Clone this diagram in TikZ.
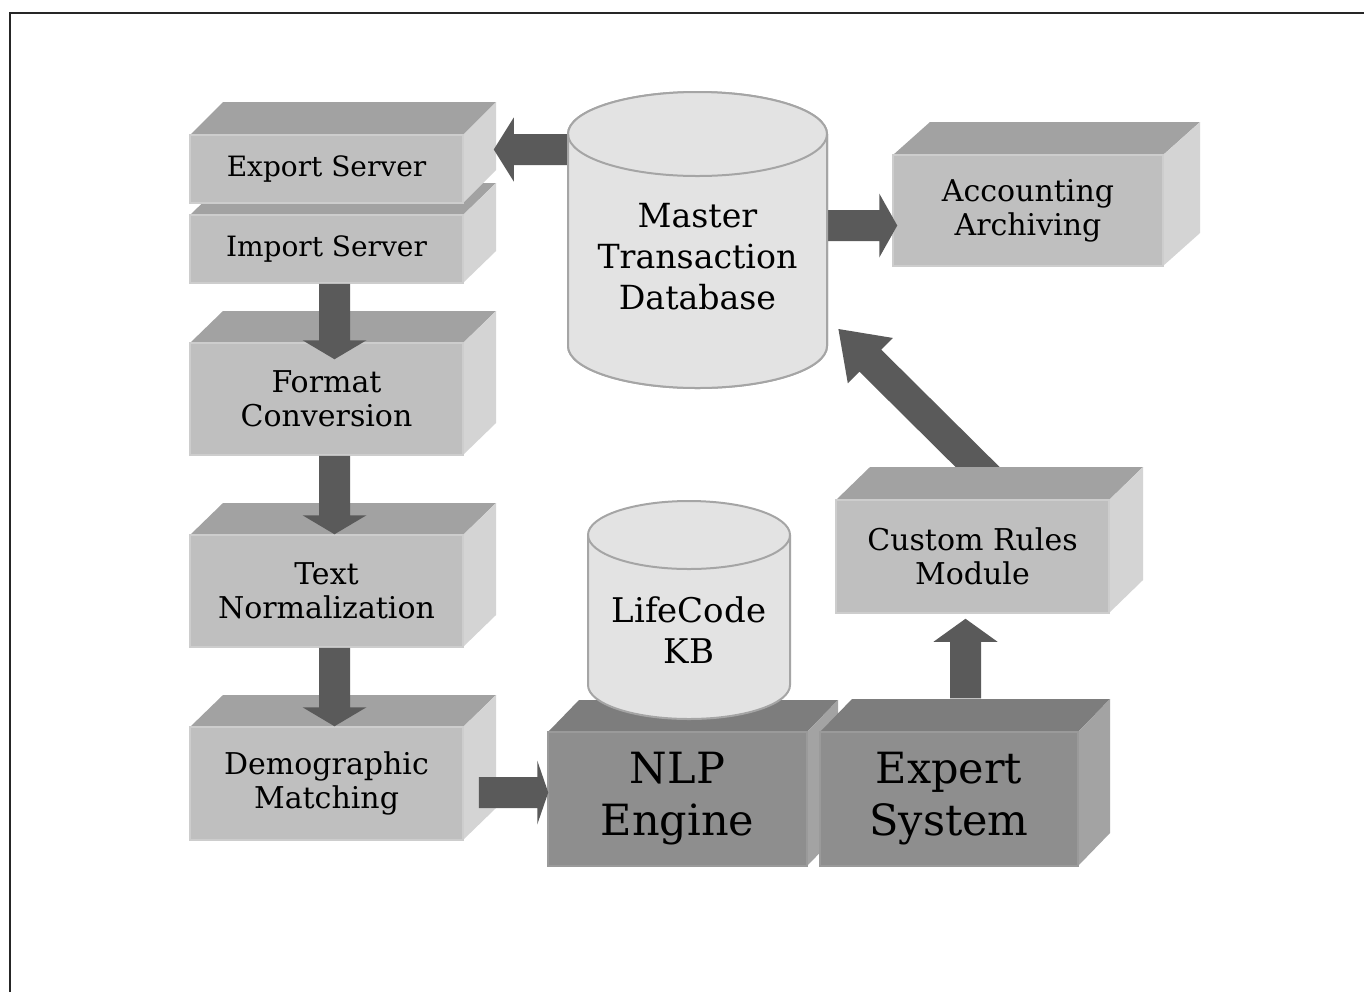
\documentclass[tikz,border=0pt]{standalone}
\usepackage{fontspec}
\setmainfont{DejaVu Serif}
\usetikzlibrary{calc}
\definecolor{ltfront}{HTML}{BFBFBF}
\definecolor{lttop}{HTML}{A2A2A2}
\definecolor{ltside}{HTML}{D4D4D4}
\definecolor{ltedge}{HTML}{CDCDCD}
\definecolor{dkfront}{HTML}{8E8E8E}
\definecolor{dktop}{HTML}{7D7D7D}
\definecolor{dkside}{HTML}{A3A3A3}
\definecolor{dkedge}{HTML}{9A9A9A}
\definecolor{arrowc}{HTML}{5A5A5A}
\definecolor{cylfill}{HTML}{E3E3E3}
\definecolor{cyledge}{HTML}{A5A5A5}
\tikzset{
  ltfrontstyle/.style={fill=ltfront, draw=ltedge, line width=0.75pt, inner sep=0pt, align=center, text=black},
  dkfrontstyle/.style={fill=dkfront, draw=dkedge, line width=0.75pt, inner sep=0pt, align=center, text=black},
  srvtext/.style={font=\fontsize{14}{16.5}\selectfont},
  midtext/.style={font=\fontsize{15}{16.8}\selectfont},
  bigtext/.style={font=\fontsize{21.5}{26}\selectfont},
  cyltext/.style={font=\fontsize{16.6}{20.5}\selectfont, align=center, inner sep=0pt},
  arrowfill/.style={fill=arrowc},
  frameline/.style={draw=black!85, line width=1pt},
  cylbody/.style={fill=cylfill, draw=cyledge, line width=1pt},
  cylrim/.style={draw=cyledge, line width=1pt}
}
% light 3D box: name, x1, y1, x2, y2, dx, dy, text style, text
\newcommand\ltbox[9]{%
  \fill[lttop] (#2,#3) -- (#2+#6,#3-#7) -- (#4+#6,#3-#7) -- (#4,#3) -- cycle;
  \fill[ltside] (#4,#3) -- (#4+#6,#3-#7) -- (#4+#6,#5-#7) -- (#4,#5) -- cycle;
  \node[ltfrontstyle,#8,minimum width={(#4-#2)*0.5pt},minimum height={(#5-#3)*0.5pt}] (#1) at ({(#2+#4)/2},{(#3+#5)/2}) {#9};
}
\newcommand\dkbox[9]{%
  \fill[dktop] (#2,#3) -- (#2+#6,#3-#7) -- (#4+#6,#3-#7) -- (#4,#3) -- cycle;
  \fill[dkside] (#4,#3) -- (#4+#6,#3-#7) -- (#4+#6,#5-#7) -- (#4,#5) -- cycle;
  \node[dkfrontstyle,#8,minimum width={(#4-#2)*0.5pt},minimum height={(#5-#3)*0.5pt}] (#1) at ({(#2+#4)/2},{(#3+#5)/2}) {#9};
}
% cylinder: name, cx, ytop, ybot, rx, ry
\newcommand\cylshape[6]{%
  \path[cylbody] ({#2-#5},#3) -- ({#2-#5},#4)
    arc[start angle=180,end angle=360,x radius={#5*0.5pt},y radius={#6*0.5pt}]
    -- ({#2+#5},#3)
    arc[start angle=0,end angle=180,x radius={#5*0.5pt},y radius={#6*0.5pt}] -- cycle;
  \draw[cylrim] ({#2-#5},#3) arc[start angle=180,end angle=360,x radius={#5*0.5pt},y radius={#6*0.5pt}];
  \node[inner sep=0pt,minimum width={2*#5*0.5pt},minimum height={(#4-#3+2*#6)*0.5pt}] (#1) at (#2,{(#3+#4)/2}) {};
}
% block arrow: head length, start, tip
\newcommand\blockarrow[3]{%
  \coordinate (bah) at ($(#3)!#1!(#2)$);
  \fill[arrowfill] ($(#2)!7.75pt!90:(#3)$) -- ($(bah)!7.75pt!90:(#3)$) -- ($(bah)!16pt!90:(#3)$) -- (#3)
    -- ($(bah)!16pt!-90:(#3)$) -- ($(bah)!7.75pt!-90:(#3)$) -- ($(#2)!7.75pt!-90:(#3)$) -- cycle;
}
\begin{document}
\begin{tikzpicture}[x=0.5pt,y=-0.5pt]
\useasboundingbox (0,0) rectangle (1364,992);
\fill[white] (0,0) rectangle (1364,992);
\draw[frameline] (10,992) -- (10,12.5) -- (1364,12.5);

% left column
\ltbox{import}{190}{215}{463}{283}{33}{32}{srvtext}{Import Server}
\ltbox{export}{190}{135}{463}{203}{33}{33}{srvtext}{Export Server}
\ltbox{format}{190}{343}{463}{455}{33}{32}{midtext}{Format\\Conversion}
\ltbox{textnorm}{190}{535}{463}{647}{33}{32}{midtext}{Text\\Normalization}
\ltbox{demo}{190}{727}{463}{840}{33}{32}{midtext}{Demographic\\Matching}
% right boxes
\ltbox{acct}{893}{155}{1163}{266}{37}{33}{midtext}{Accounting\\Archiving}
\dkbox{nlp}{548}{732}{807}{866}{31}{32}{bigtext}{NLP\\Engine}
\dkbox{expert}{820}{732}{1078}{866}{32}{33}{bigtext}{Expert\\System}

% master cylinder node (geometry) first for anchors
\cylshape{master}{697.5}{134}{346}{129.5}{42}

% custom rules -> master (drawn under custom box)
\coordinate (a8s) at (1004.8,494);
\coordinate (a8e) at ($(master.east)+(11,89)$);
\blockarrow{22.5pt}{a8s}{a8e}
\ltbox{custom}{836}{500}{1109}{613}{34}{33}{midtext}{Custom Rules\\Module}

% master -> export / accounting (starts hidden under cylinder)
\coordinate (a1s) at ($(master.west)+(5,-90.5)$);
\coordinate (a1e) at ($(export.east)+(30,-19.5)$);
\blockarrow{10pt}{a1s}{a1e}
\coordinate (a2s) at ($(master.east)+(-5,-14.5)$);
\coordinate (a2e) at ($(acct.west)+(5,15)$);
\blockarrow{9pt}{a2s}{a2e}

% redraw master cylinder on top of arrow starts
\cylshape{master}{697.5}{134}{346}{129.5}{42}
\node[cyltext] (masterlabel) at (697.5,257) {Master\\Transaction\\Database};

% LifeCode KB cylinder on NLP engine
\cylshape{lifecode}{689}{535}{685}{101}{34}
\node[cyltext, font=\fontsize{17}{20.5}\selectfont] (lifecodelabel) at (689,630) {LifeCode\\KB};

% vertical flow arrows
\coordinate (a3s) at ($(import.south)+(8,0)$);
\coordinate (a3e) at ($(format.north)+(8,17)$);
\blockarrow{9.5pt}{a3s}{a3e}
\coordinate (a4s) at ($(format.south)+(8,0)$);
\coordinate (a4e) at ($(textnorm.north)+(8,0)$);
\blockarrow{9.5pt}{a4s}{a4e}
\coordinate (a5s) at ($(textnorm.south)+(8,0)$);
\coordinate (a5e) at ($(demo.north)+(8,0)$);
\blockarrow{9.5pt}{a5s}{a5e}
% demographic -> NLP
\coordinate (a6s) at ($(demo.east)+(15,9)$);
\coordinate (a6e) at ($(nlp.west)+(1,-6.5)$);
\blockarrow{5.5pt}{a6s}{a6e}
% expert -> custom rules
\coordinate (a7s) at ($(expert.north)+(16.5,-33)$);
\coordinate (a7e) at ($(custom.south)+(-7,5)$);
\blockarrow{11.5pt}{a7s}{a7e}
\end{tikzpicture}
\end{document}
